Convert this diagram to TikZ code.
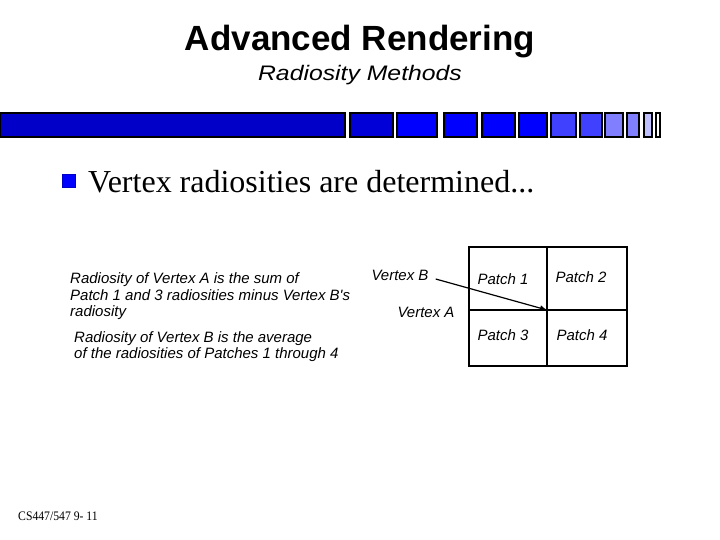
\documentclass[tikz,border=0pt]{standalone}
\usepackage{fontspec}
\setmainfont{Liberation Serif}
\newfontfamily\arial{Liberation Sans}
\usetikzlibrary{arrows.meta}
\definecolor{b1}{RGB}{0,0,200}
\definecolor{b2}{RGB}{0,0,215}
\definecolor{b3}{RGB}{0,0,255}
\definecolor{b4}{RGB}{64,64,255}
\definecolor{b5}{RGB}{128,128,255}
\definecolor{b6}{RGB}{192,192,255}
\begin{document}
\begin{tikzpicture}[x=1pt,y=-1pt,
  barbox/.style={draw=black,line width=1.6pt},
  sans/.style={font=\arial\itshape\fontsize{15}{17}\selectfont,inner sep=0pt}]
\useasboundingbox (0,0) rectangle (720,540);
% title
\node[font=\arial\bfseries\fontsize{35}{40}\selectfont] (title) at (360,42) {Advanced Rendering};
\node[font=\arial\itshape\fontsize{21}{25}\selectfont] (sub) at (360,75) {\addfontfeature{FakeStretch=1.18}Radiosity Methods};
% bar
\foreach \a/\b/\c [count=\i] in {0/345/b1,350/393/b2,397/437/b3,444/477/b3,482/515/b3,519/547/b3,551/576/b4,580/602/b4,605/623/b5,627/639/b5,644/652/b6,656/660/white}
  \draw[barbox,fill=\c] (\a,113) rectangle (\b,137);
% bullet
\fill[b3,draw=b1] (62,174) rectangle (75,187);
\node[anchor=base west,font=\fontsize{32}{36}\selectfont,inner sep=0pt] (bul) at (88,193) {Vertex radiosities are determined...};
% left texts
\node[sans,anchor=base west] (l1) at (70,283) {Radiosity of Vertex A is the sum of};
\node[sans,anchor=base west] (l2) at (70,300) {Patch 1 and 3 radiosities minus Vertex B's};
\node[sans,anchor=base west] (l3) at (70,316) {radiosity};
\node[sans,anchor=base west] (l4) at (74,342) {Radiosity of Vertex B is the average};
\node[sans,anchor=base west] (l5) at (74,358) {of the radiosities of Patches 1 through 4};
% grid
\draw[line width=1.4pt] (469,247) rectangle (627,366);
\draw[line width=1.4pt] (547,247) -- (547,366);
\draw[line width=1.4pt] (469,310) -- (627,310);
\node[sans] (p1) at (503,279) {Patch 1};
\node[sans] (p2) at (581,277) {Patch 2};
\node[sans] (p3) at (503,335) {Patch 3};
\node[sans] (p4) at (582,335) {Patch 4};
\node[sans] (vb) at (400,275) {Vertex B};
\node[sans] (va) at (426,312) {Vertex A};
\coordinate (corner) at (547,310);
\draw[line width=1.2pt,-{Latex[length=7pt,width=6pt]}] ([xshift=7pt,yshift=-4pt]vb.east) -- (corner);
% footer
\node[anchor=base west,inner sep=0pt,font=\fontsize{13}{15}\selectfont] (foot) at (18,520) {\addfontfeature{FakeStretch=0.9}CS447/547 9- 11};
\end{tikzpicture}
\end{document}
